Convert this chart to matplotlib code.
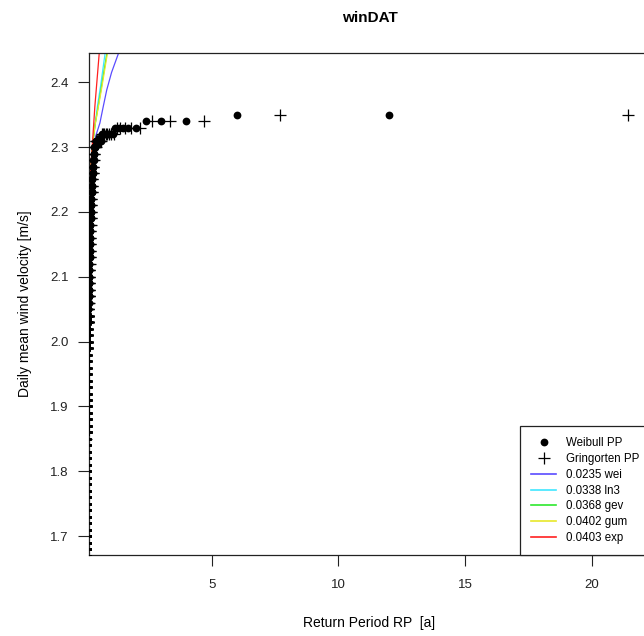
import matplotlib
matplotlib.use("Agg")
import matplotlib.pyplot as plt
import numpy as np

plt.rcParams["font.family"] = ["Liberation Sans", "DejaVu Sans"]

# sorted daily wind velocities (rounded to 0.01 m/s) and how many days hold each value
levels = np.round(np.arange(2.35, 1.655, -0.01), 2)
counts = [2, 3, 5, 8, 10, 4, 2,
          2, 2, 2, 2, 2, 2, 2, 2, 2, 2, 2, 2, 2, 2,
          2, 2, 2, 3, 3, 3, 3, 4, 4, 4,
          15, 16, 17, 18, 19, 20, 21, 22, 23, 24, 25, 26, 27, 28, 29, 30, 31, 32,
          33, 34, 35, 36, 37, 38, 39, 40, 41, 42, 43, 44, 45, 46, 47, 48, 49,
          50, 51, 52, 53]
n_total = 4383      # days in the record
obs_per_year = 365.25

# fitted distributions: goodness-of-fit label, colour, quantile curve (RP, value)
fit_names = ["wei", "ln3", "gev", "gum", "exp"]
fit_rmse = [0.0235, 0.0338, 0.0368, 0.0402, 0.0403]
fit_colors = ["#5a4cff", "#3fe6ff", "#2ee82e", "#e8e82a", "#ff2020"]
fit_rp = {
    "wei": [0.05, 0.15, 0.25, 0.33, 0.45, 0.59, 0.72, 0.86, 1.05, 1.31, 1.45],
    "ln3": [0.05, 0.15, 0.24, 0.30, 0.40, 0.50, 0.62, 0.79, 0.90],
    "gev": [0.05, 0.15, 0.24, 0.29, 0.40, 0.52, 0.66, 0.86, 0.95],
    "gum": [0.05, 0.15, 0.24, 0.29, 0.40, 0.52, 0.67, 0.88, 0.97],
    "exp": [0.05, 0.15, 0.22, 0.26, 0.32, 0.39, 0.47, 0.56, 0.62],
}
fit_val = {
    "wei": [1.90, 2.16, 2.26, 2.300, 2.320, 2.337, 2.362, 2.388, 2.415, 2.443, 2.46],
    "ln3": [1.90, 2.16, 2.27, 2.300, 2.335, 2.365, 2.395, 2.443, 2.47],
    "gev": [1.90, 2.16, 2.27, 2.300, 2.335, 2.362, 2.395, 2.443, 2.46],
    "gum": [1.90, 2.16, 2.27, 2.300, 2.334, 2.360, 2.393, 2.443, 2.46],
    "exp": [1.90, 2.16, 2.26, 2.285, 2.320, 2.362, 2.400, 2.443, 2.47],
}

# expand to the ordered sample and compute plotting positions -> return periods
values = np.repeat(levels, counts)
rank = np.arange(1, len(values) + 1)
rp_weibull = (n_total + 1) / (obs_per_year * rank)
rp_gringorten = (n_total + 0.12) / (obs_per_year * (rank - 0.44))

fig = plt.figure(figsize=(6.44, 6.36), dpi=100)
ax = fig.add_axes([89 / 644, 1 - 555 / 636, (650 - 89) / 644, (555 - 53) / 636])

for name, col in zip(fit_names, fit_colors):
    ax.plot(fit_rp[name], fit_val[name], color=col, lw=0.9, zorder=2)

ax.plot(rp_weibull, values, "o", color="black", ms=5.6, mew=0, zorder=3)
ax.plot(rp_gringorten, values, "+", color="black", ms=8.5, mew=0.9, zorder=3)

ax.set_xlim(0.16, 22.3)
ax.set_ylim(1.671, 2.445)
ax.set_xticks([5, 10, 15, 20])
ax.set_yticks(np.round(np.arange(1.7, 2.41, 0.1), 1))
ax.tick_params(direction="out", length=7.6, width=0.8, labelsize=9.5, colors="#222222")
ax.tick_params(axis="y", pad=7)
ax.tick_params(axis="x", pad=10)
for s in ax.spines.values():
    s.set_linewidth(0.9)
    s.set_color("#222222")

ax.set_title("winDAT", fontsize=11, fontweight="bold", pad=22)
ax.set_xlabel("Return Period RP  [a]", fontsize=10, labelpad=18)
ax.set_ylabel("Daily mean wind velocity [m/s]", fontsize=10, labelpad=13)

# legend entries
handles = [
    plt.Line2D([], [], ls="none", marker="o", color="black", ms=5.6, mew=0),
    plt.Line2D([], [], ls="none", marker="+", color="black", ms=8.5, mew=0.9),
]
labels = ["Weibull PP", "Gringorten PP"]
for name, rmse, col in zip(fit_names, fit_rmse, fit_colors):
    handles.append(plt.Line2D([], [], color=col, lw=1.2))
    labels.append(f"{rmse:.4f} {name}")
leg = ax.legend(handles, labels, loc="lower right", fontsize=8.3, frameon=True,
                fancybox=False, framealpha=1, edgecolor="#222222",
                borderaxespad=0, handlelength=2.2, handletextpad=0.8,
                labelspacing=0.33, borderpad=0.95)
leg.get_frame().set_linewidth(0.9)

fig.savefig("out.png", dpi=100)
